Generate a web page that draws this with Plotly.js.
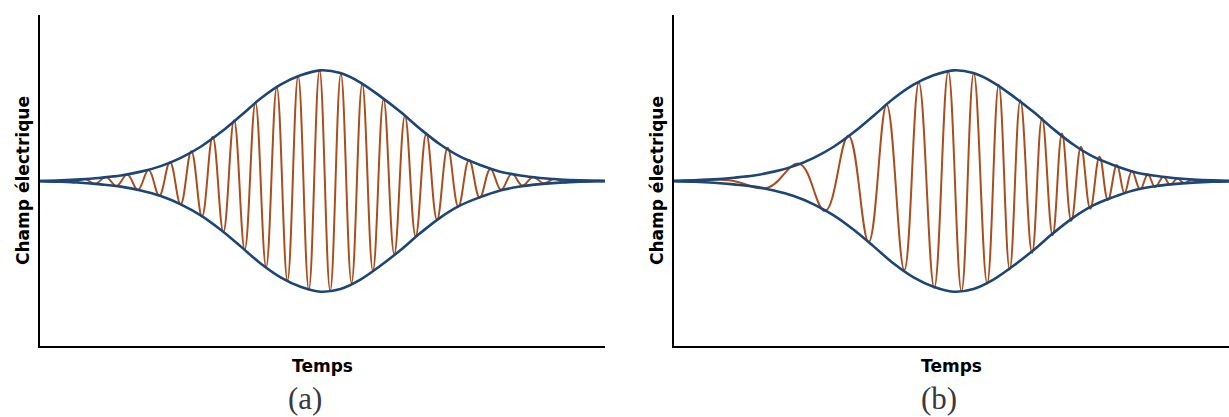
<!DOCTYPE html>
<html>
<head>
<meta charset="utf-8">
<script src="https://cdn.plot.ly/plotly-3.0.1.min.js"></script>
<style>html,body{margin:0;padding:0;background:#fff;}#chart{width:1229px;height:417px;}</style>
</head>
<body>
<div id="chart"></div>
<script>
// ---- Data (time in arbitrary units, field normalised to peak = 1) ----
// Gaussian envelope (upper half; lower half is its mirror), same pulse in both panels
var envTime = [0, 21, 41, 61, 81, 101, 121, 141, 161, 181, 201, 221, 241, 261, 281, 301, 321, 341, 361, 381, 401, 421, 441, 461, 481, 501, 521, 541, 566];
var envValue = [0.001, 0.006, 0.015, 0.03, 0.05, 0.085, 0.135, 0.21, 0.31, 0.44, 0.59, 0.745, 0.87, 0.955, 1.0, 0.975, 0.89, 0.765, 0.625, 0.47, 0.33, 0.22, 0.145, 0.085, 0.05, 0.028, 0.014, 0.006, 0.002];

// (a) constant-frequency carrier: successive extrema (peaks and troughs)
var carrierATime = [0, 12.5, 23.2, 33.9, 44.6, 55.3, 66, 76.7, 87.4, 98.1, 108.8, 119.5, 130.2, 140.9, 151.6, 162.3, 173, 183.7, 194.4, 205.1, 215.8, 226.5, 237.2, 247.9, 258.6, 269.3, 280, 290.7, 301.4, 312.1, 322.8, 333.5, 344.2, 354.9, 365.6, 376.3, 387, 397.7, 408.4, 419.1, 429.8, 440.5, 451.2, 461.9, 472.6, 483.3, 494, 504.7, 515.4, 526.1, 536.8, 547.5, 558.2, 566];
var carrierAValue = [0, -0.004, 0.007, -0.012, 0.018, -0.025, 0.036, -0.045, 0.059, -0.08, 0.10, -0.13, 0.17, -0.21, 0.27, -0.32, 0.40, -0.46, 0.55, -0.62, 0.71, -0.78, 0.85, -0.90, 0.95, -0.98, 1.0, -0.99, 0.97, -0.92, 0.88, -0.81, 0.74, -0.66, 0.59, -0.50, 0.43, -0.35, 0.30, -0.23, 0.19, -0.15, 0.11, -0.08, 0.065, -0.04, 0.035, -0.02, 0.02, -0.012, 0.008, -0.005, 0.003, 0];

// (b) chirped carrier (frequency rising with time): successive extrema
var carrierBTime = [1, 56, 94.7, 126.3, 152.3, 175.7, 196, 214, 231.7, 246.3, 261.7, 275.7, 289, 301.3, 314.7, 326.3, 337.3, 348, 359.7, 369.7, 380.3, 389.7, 399, 408.7, 418, 427.3, 435.7, 444.7, 452.3, 459.7, 468, 475.7, 483, 491.3, 498, 505.3, 512, 519.7, 526.3, 533.7, 540, 547, 553, 557];
var carrierBValue = [0, 0.008, -0.06, 0.157, -0.27, 0.41, -0.55, 0.69, -0.805, 0.89, -0.965, 0.99, -0.995, 0.975, -0.925, 0.87, -0.80, 0.73, -0.65, 0.57, -0.49, 0.43, -0.36, 0.31, -0.25, 0.22, -0.17, 0.145, -0.11, 0.09, -0.075, 0.06, -0.054, 0.04, -0.033, 0.022, -0.018, 0.013, -0.009, 0.006, -0.004, 0.003, -0.002, 0];

var axisTitleY = 'Champ électrique';
var axisTitleX = 'Temps';
var panelLabels = ['(a)', '(b)'];

// ---- Styles ----
var envColor = '#1b4676';
var carrierColor = '#a94e1e';
var envLower = envValue.map(function (v) { return -v; });

function carrierTrace(t, v, xa, ya) {
  return {x: t, y: v, xaxis: xa, yaxis: ya, type: 'scatter', mode: 'lines',
          line: {color: carrierColor, width: 2, shape: 'spline', smoothing: 1.15}, hoverinfo: 'skip'};
}
function envTrace(v, xa, ya) {
  return {x: envTime, y: v, xaxis: xa, yaxis: ya, type: 'scatter', mode: 'lines',
          line: {color: envColor, width: 2.6, shape: 'spline', smoothing: 1}, hoverinfo: 'skip'};
}

var data = [
  carrierTrace(carrierATime, carrierAValue, 'x', 'y'),
  envTrace(envValue, 'x', 'y'),
  envTrace(envLower, 'x', 'y'),
  carrierTrace(carrierBTime, carrierBValue, 'x2', 'y2'),
  envTrace(envValue, 'x2', 'y2'),
  envTrace(envLower, 'x2', 'y2')
];

var titleFont = {family: 'DejaVu Sans', size: 17, color: '#000', weight: 'bold'};
function xAxis(domain, range, anchor) {
  return {domain: domain, range: range, anchor: anchor, showline: true, linecolor: '#000', linewidth: 2,
          showgrid: false, zeroline: false, showticklabels: false, ticks: '', fixedrange: true,
          title: {text: axisTitleX, font: titleFont, standoff: 13}, automargin: false};
}
function yAxis(domain, range, anchor) {
  return {domain: domain, range: range, anchor: anchor, showline: true, linecolor: '#000', linewidth: 2,
          showgrid: false, zeroline: false, showticklabels: false, ticks: '', fixedrange: true,
          title: {text: axisTitleY, font: titleFont, standoff: 4}, automargin: false};
}

var W = 1229, H = 417;
var yDom = [(H - 346) / H, (H - 15) / H];
var layout = {
  width: W, height: H,
  margin: {l: 0, r: 0, t: 0, b: 0},
  paper_bgcolor: '#fff', plot_bgcolor: '#fff',
  showlegend: false,
  xaxis: xAxis([40 / W, 605 / W], [0, 566], 'y'),
  yaxis: yAxis(yDom, [-1.49, 1.5], 'x'),
  xaxis2: xAxis([674 / W, 1], [1, 557], 'y2'),
  yaxis2: yAxis(yDom, [-1.49, 1.5], 'x2'),
  annotations: [
    {text: panelLabels[0], xref: 'paper', yref: 'paper', x: 305 / W, y: 0, xanchor: 'center', yanchor: 'bottom',
     showarrow: false, borderpad: 0, font: {family: 'Liberation Serif', size: 31, color: '#3a3a3a'}},
    {text: panelLabels[1], xref: 'paper', yref: 'paper', x: 939 / W, y: 0, xanchor: 'center', yanchor: 'bottom',
     showarrow: false, borderpad: 0, font: {family: 'Liberation Serif', size: 31, color: '#3a3a3a'}}
  ]
};

Plotly.newPlot('chart', data, layout, {displayModeBar: false, staticPlot: true});
</script>
</body>
</html>
